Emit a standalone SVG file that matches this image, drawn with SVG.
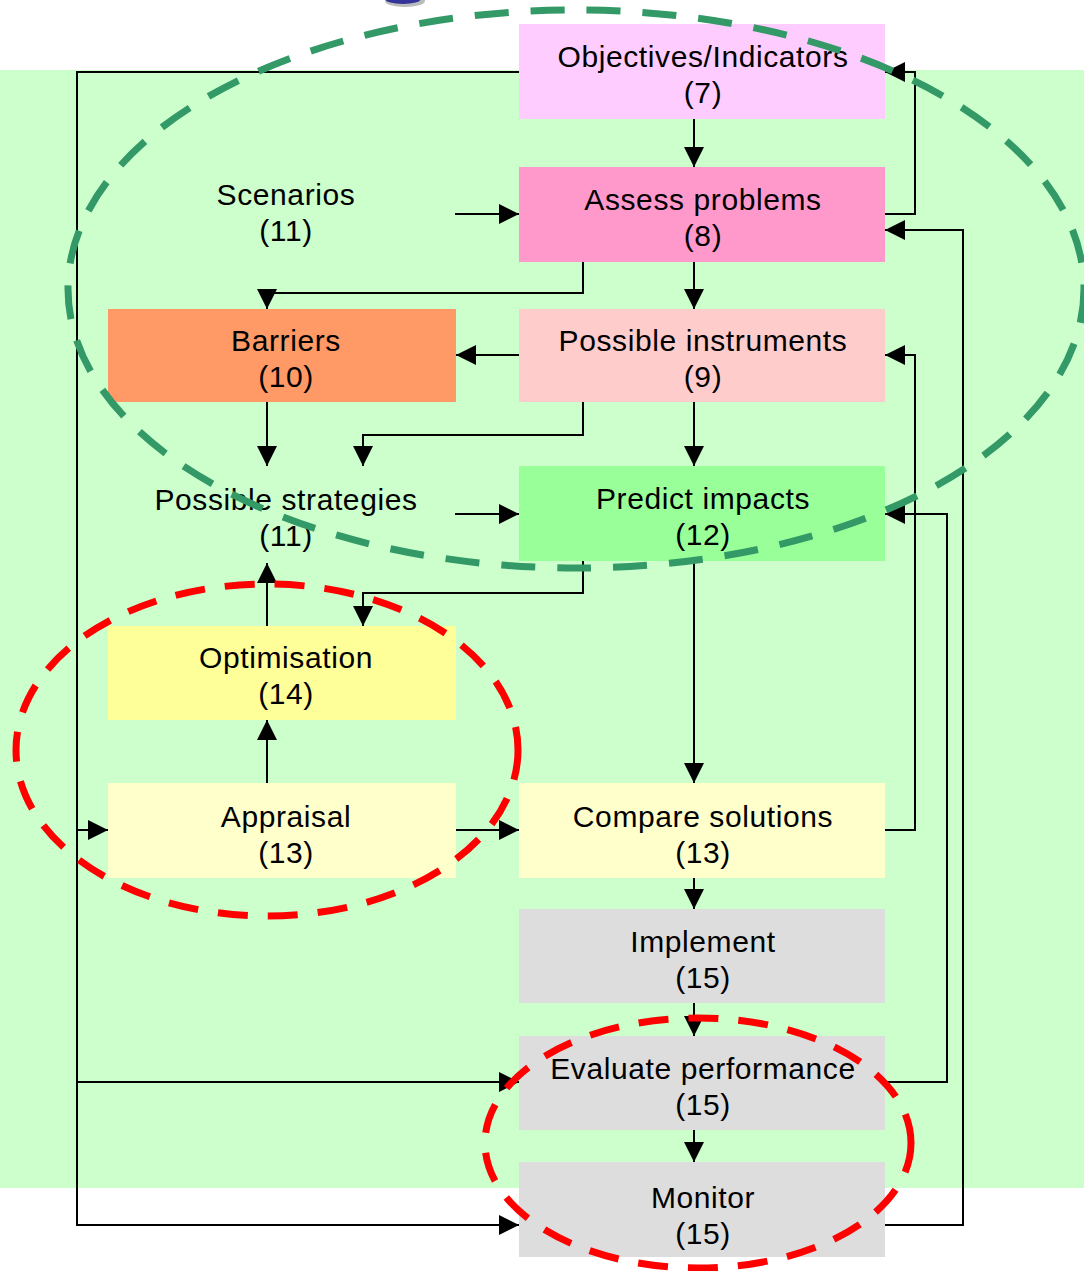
<svg xmlns="http://www.w3.org/2000/svg" width="1084" height="1271" viewBox="0 0 1084 1271">
<style>
.t{font-family:"Liberation Sans",Arial,sans-serif;font-size:30px;fill:#000;text-anchor:middle;letter-spacing:0.6px}
.c{fill:none;stroke:#000;stroke-width:2}
.ar{marker-end:url(#a)}
.g{fill:none;stroke:#339966;stroke-width:7;stroke-dasharray:34 22}
.r{fill:none;stroke:#FF0000;stroke-width:7;stroke-dasharray:30 20}
</style>
<defs>
<marker id="a" viewBox="0 0 20 20" refX="20" refY="10" markerWidth="20" markerHeight="20" markerUnits="userSpaceOnUse" orient="auto"><path d="M0,0 L20,10 L0,20 z" fill="#000"/></marker>
</defs>
<rect x="0" y="0" width="1084" height="1271" fill="#fff"/>
<rect x="0" y="70" width="1084" height="1118" fill="#CCFFCC"/>
<ellipse cx="405" cy="1" rx="20" ry="6" fill="#bbbbbb"/>
<ellipse cx="403" cy="-1" rx="18" ry="5" fill="#333399"/>

<g id="connectors">
<path class="c ar" d="M694,119 V167"/>
<path class="c ar" d="M455,214 H519"/>
<path class="c ar" d="M694,262 V309"/>
<path class="c ar" d="M583,262 V293 H267 V309"/>
<path class="c ar" d="M519,355 H456"/>
<path class="c ar" d="M583,402 V435 H363 V466"/>
<path class="c ar" d="M267,402 V466"/>
<path class="c ar" d="M694,402 V466"/>
<path class="c ar" d="M455,514 H519"/>
<path class="c ar" d="M583,561 V593 H363 V626"/>
<path class="c ar" d="M267,626 V563"/>
<path class="c ar" d="M267,783 V720"/>
<path class="c ar" d="M694,561 V783"/>
<path class="c ar" d="M456,830 H519"/>
<path class="c ar" d="M694,878 V909"/>
<path class="c ar" d="M694,1003 V1036"/>
<path class="c ar" d="M694,1130 V1162"/>
<path class="c ar" d="M885,214 H915 V72 H885"/>
<path class="c ar" d="M885,830 H915 V355 H885"/>
<path class="c ar" d="M885,1082 H947 V514 H885"/>
<path class="c ar" d="M885,1225 H963 V230 H885"/>
<path class="c ar" d="M519,72 H77 V1225 H519"/>
<path class="c ar" d="M77,830 H108"/>
<path class="c ar" d="M77,1082 H519"/>
</g>

<g id="objectives"><rect x="519" y="24" width="366" height="95" fill="#FFCCFF"/><text class="t" x="703" y="67">Objectives/Indicators</text><text class="t" x="703" y="103">(7)</text></g>
<g id="assess"><rect x="519" y="167" width="366" height="95" fill="#FF99CC"/><text class="t" x="703" y="210">Assess problems</text><text class="t" x="703" y="246">(8)</text></g>
<g id="scenarios"><text class="t" x="286" y="205">Scenarios</text><text class="t" x="286" y="241">(11)</text></g>
<g id="barriers"><rect x="108" y="309" width="348" height="93" fill="#FF9966"/><text class="t" x="286" y="351">Barriers</text><text class="t" x="286" y="387">(10)</text></g>
<g id="instruments"><rect x="519" y="309" width="366" height="93" fill="#FFCCCC"/><text class="t" x="703" y="351">Possible instruments</text><text class="t" x="703" y="387">(9)</text></g>
<g id="strategies"><text class="t" x="286" y="510">Possible strategies</text><text class="t" x="286" y="546">(11)</text></g>
<g id="predict"><rect x="519" y="466" width="366" height="95" fill="#99FF99"/><text class="t" x="703" y="509">Predict impacts</text><text class="t" x="703" y="545">(12)</text></g>
<g id="optimisation"><rect x="108" y="626" width="348" height="94" fill="#FFFF99"/><text class="t" x="286" y="668">Optimisation</text><text class="t" x="286" y="704">(14)</text></g>
<g id="appraisal"><rect x="108" y="783" width="348" height="95" fill="#FFFFCC"/><text class="t" x="286" y="827">Appraisal</text><text class="t" x="286" y="863">(13)</text></g>
<g id="compare"><rect x="519" y="783" width="366" height="95" fill="#FFFFCC"/><text class="t" x="703" y="827">Compare solutions</text><text class="t" x="703" y="863">(13)</text></g>
<g id="implement"><rect x="519" y="909" width="366" height="94" fill="#DDDDDD"/><text class="t" x="703" y="952">Implement</text><text class="t" x="703" y="988">(15)</text></g>
<g id="evaluate"><rect x="519" y="1036" width="366" height="94" fill="#DDDDDD"/><text class="t" x="703" y="1079">Evaluate performance</text><text class="t" x="703" y="1115">(15)</text></g>
<g id="monitor"><rect x="519" y="1162" width="366" height="95" fill="#DDDDDD"/><text class="t" x="703" y="1208">Monitor</text><text class="t" x="703" y="1244">(15)</text></g>

<g id="groupings">
<ellipse class="g" cx="576" cy="289" rx="508" ry="279"/>
<ellipse class="r" cx="267" cy="750" rx="251" ry="166"/>
<ellipse class="r" cx="698" cy="1143" rx="213" ry="125"/>
</g>
</svg>
